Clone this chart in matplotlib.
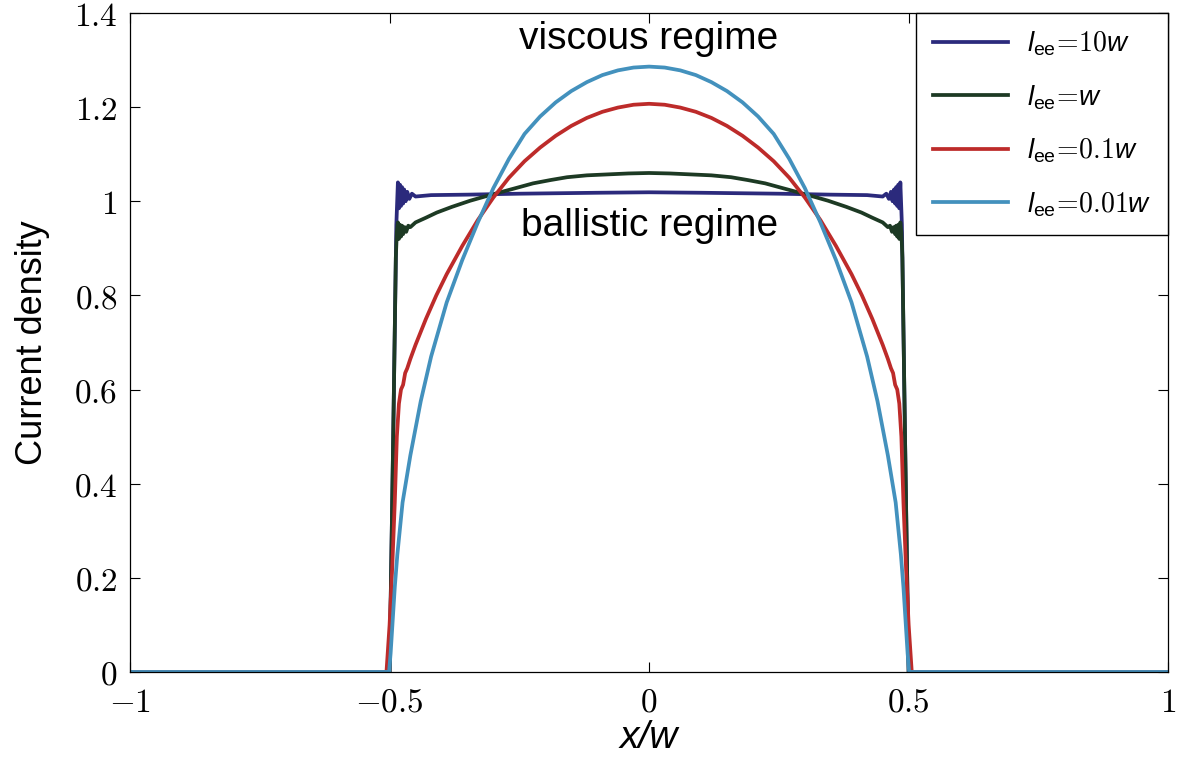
import numpy as np
import matplotlib
matplotlib.use('Agg')
import matplotlib.pyplot as plt
from matplotlib.ticker import FuncFormatter

plt.rcParams['mathtext.fontset'] = 'custom'
plt.rcParams['mathtext.rm'] = 'cmr10'
plt.rcParams['mathtext.it'] = 'Liberation Sans:italic'
plt.rcParams['mathtext.sf'] = 'Liberation Sans'
plt.rcParams['mathtext.fallback'] = 'cm'

# left half of each profile (x/w from -1 to 0); profiles are symmetric
x_blue = [-1.0, -0.5, -0.493, -0.487, -0.484, -0.482, -0.480, -0.478, -0.476, -0.474, -0.472,
          -0.469, -0.466, -0.462, -0.457, -0.45, -0.42, -0.35, -0.25, -0.1, 0.0]
j_blue = [0.0, 0.0, 0.5, 0.95, 1.04, 0.985, 1.035, 0.99, 1.03, 0.995, 1.025,
          1.0, 1.02, 1.005, 1.016, 1.01, 1.013, 1.014, 1.016, 1.018, 1.019]

x_green = [-1.0, -0.5, -0.493, -0.488, -0.486, -0.484, -0.482, -0.480, -0.478, -0.476, -0.474,
           -0.471, -0.468, -0.464, -0.46, -0.45, -0.43, -0.409, -0.38, -0.345, -0.31, -0.28,
           -0.25, -0.2235, -0.19, -0.158, -0.12, -0.08, -0.04, 0.0]
j_green = [0.0, 0.0, 0.5, 0.88, 0.935, 0.955, 0.92, 0.95, 0.925, 0.948, 0.93,
           0.945, 0.935, 0.948, 0.945, 0.955, 0.965, 0.976, 0.988, 1.001, 1.012, 1.021,
           1.03, 1.038, 1.045, 1.051, 1.055, 1.057, 1.059, 1.06]

x_red = [-1.0, -0.506, -0.50, -0.495, -0.49, -0.486, -0.482, -0.478, -0.474, -0.47, -0.466,
         -0.46, -0.45, -0.43, -0.41, -0.39, -0.36, -0.33, -0.30, -0.27, -0.24, -0.21,
         -0.18, -0.15, -0.12, -0.09, -0.06, -0.03, 0.0]
j_red = [0.0, 0.0, 0.1, 0.22, 0.36, 0.5, 0.57, 0.60, 0.61, 0.635, 0.645,
         0.665, 0.695, 0.75, 0.80, 0.845, 0.905, 0.96, 1.008, 1.05, 1.085, 1.114,
         1.139, 1.16, 1.177, 1.19, 1.199, 1.205, 1.207]

x_cyan = [-1.0, -0.501, -0.498, -0.494, -0.49, -0.485, -0.475, -0.46, -0.44, -0.42, -0.39,
          -0.36, -0.33, -0.30, -0.27, -0.24, -0.21, -0.18, -0.15, -0.12, -0.09, -0.06,
          -0.03, 0.0]
j_cyan = [0.0, 0.0, 0.04, 0.11, 0.18, 0.25, 0.36, 0.46, 0.575, 0.67, 0.785,
          0.875, 0.955, 1.028, 1.09, 1.143, 1.18, 1.21, 1.234, 1.253, 1.268, 1.278,
          1.284, 1.286]

labels = [r'$l_{\mathsf{ee}}\!=\!10w$', r'$l_{\mathsf{ee}}\!=\!w$',
          r'$l_{\mathsf{ee}}\!=\!0.1w$', r'$l_{\mathsf{ee}}\!=\!0.01w$']
colors = ['#2b2a7c', '#1d3a24', '#bd2b2a', '#4391bd']


def mirror(x, y):
    x = np.array(x)
    y = np.array(y)
    return np.concatenate([x, -x[::-1][1:]]), np.concatenate([y, y[::-1][1:]])


fig = plt.figure(figsize=(11.77, 7.61), dpi=100)
ax = fig.add_axes([0.1105, 0.117, 0.882, 0.866])

for (xs, ys), lab, col in zip([(x_blue, j_blue), (x_green, j_green), (x_red, j_red), (x_cyan, j_cyan)],
                              labels, colors):
    xx, yy = mirror(xs, ys)
    ax.plot(xx, yy, color=col, lw=2.7, label=lab)

ax.set_xlim(-1, 1)
ax.set_ylim(0, 1.4)
ax.set_xticks([-1, -0.5, 0, 0.5, 1])
ax.set_yticks(np.arange(0, 1.41, 0.2))
fmt = FuncFormatter(lambda v, p: r'$%g$' % round(v, 2))
ax.xaxis.set_major_formatter(fmt)
ax.yaxis.set_major_formatter(fmt)
ax.tick_params(direction='in', length=7, width=0.8, top=True, right=True, labelsize=24)
ax.tick_params(axis='y', pad=9)
ax.tick_params(axis='x', pad=10)
for s in ax.spines.values():
    s.set_linewidth(0.9)

ax.set_ylabel('Current density', fontsize=26, family='Liberation Sans', labelpad=17)
ax.set_xlabel('x/w', fontsize=28, family='Liberation Sans', style='italic', labelpad=1)

ax.text(0, 1.345, 'viscous regime', fontsize=28, family='Liberation Sans', ha='center', va='center')
ax.text(0, 0.948, 'ballistic regime', fontsize=28, family='Liberation Sans', ha='center', va='center')

leg = ax.legend(loc='upper right', fontsize=20, handlelength=2.7, handletextpad=0.7,
                labelspacing=0.9, borderaxespad=0, fancybox=False, framealpha=1,
                edgecolor='black', borderpad=0.6)
leg.get_frame().set_linewidth(1.0)

fig.savefig('out.png', dpi=100)
